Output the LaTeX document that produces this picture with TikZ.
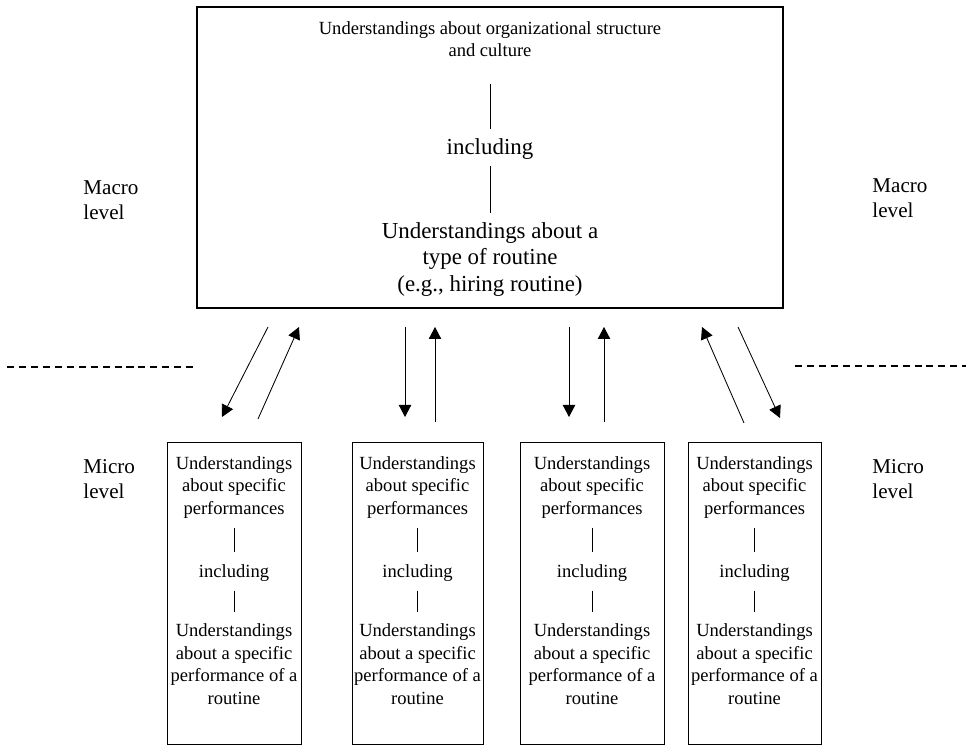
\documentclass[tikz,border=0pt]{standalone}
\usepackage{fontspec}
\setmainfont{Liberation Serif}
\usepackage{tikz}
\usetikzlibrary{arrows.meta}
\tikzset{
    txt/.style = {align=center, inner sep=0pt},
    bigtxt/.style = {align=center, inner sep=0pt, font=\fontsize{16.3pt}{18.9pt}\selectfont},
    sidetxt/.style = {align=left, inner sep=0pt, anchor=west, font=\fontsize{15pt}{17.8pt}\selectfont},
}

\begin{document}
\begin{tikzpicture}[
	line width=0.7pt,
	font=\fontsize{13.2pt}{16pt}\selectfont
]
\tikzset{
    macrobox/.style = {rectangle, draw=black, line width=0.8pt, minimum width=14.65cm, minimum height=7.525cm},
    microbox/.style = {rectangle, draw=black, line width=0.7pt, minimum height=7.525cm},
    link/.style = {-, line width=0.6pt},
    updown/.style = {-{Triangle[length=3mm,width=3.1mm]}, line width=0.6pt},
    levelline/.style = {-, dash pattern=on 5pt off 3.5pt, line width=0.8pt},
}
\useasboundingbox (0,0) rectangle (24.15,18.625);
% macro level
\node[macrobox] at (12.25,14.6875) (macro) {};
\node[txt] at (12.25,17.64) (orgtxt) {Understandings about organizational structure\\and culture};
\node[bigtxt] at (12.25,14.89) (macroincl) {including};
\node[bigtxt] at (12.25,12.145) (typetxt) {Understandings about a\\type of routine\\(e.g., hiring routine)};
\draw[link, shorten <=0.65cm, shorten >=0.225cm] (orgtxt) -- (macroincl);
\draw[link, shorten <=0.15cm, shorten >=0.225cm] (macroincl) -- (typetxt);
%
\node[sidetxt] at (2.075,13.61) (macroL) {Macro\\level};
\node[sidetxt] at (21.8,13.66) (macroR) {Macro\\level};
\node[sidetxt] at (2.075,6.64) (microL) {Micro\\level};
\node[sidetxt] at (21.8,6.64) (microR) {Micro\\level};
%
\coordinate (dashL1) at (0.175,9.45);
\coordinate (dashL2) at (4.875,9.45);
\coordinate (dashR1) at (19.875,9.475);
\coordinate (dashR2) at (24.15,9.475);
\draw[levelline] (dashL1) -- (dashL2);
\draw[levelline] (dashR1) -- (dashR2);
% micro level
\node[microbox, minimum width=3.35cm] at (5.85,3.7875) (micro1) {};
\node[txt] at (5.85,6.445) (perf1) {Understandings\\about specific\\performances};
\node[txt] at (5.85,4.31) (incl1) {including};
\node[txt] at (5.85,2.02) (spec1) {Understandings\\about a specific\\performance of a\\routine};
\draw[link, shorten <=0.225cm, shorten >=0.3cm] (perf1) -- (incl1);
\draw[link, shorten <=0.225cm, shorten >=0.275cm] (incl1) -- (spec1);
%
\node[microbox, minimum width=3.275cm] at (10.4375,3.7875) (micro2) {};
\node[txt] at (10.4375,6.445) (perf2) {Understandings\\about specific\\performances};
\node[txt] at (10.4375,4.31) (incl2) {including};
\node[txt] at (10.4375,2.02) (spec2) {Understandings\\about a specific\\performance of a\\routine};
\draw[link, shorten <=0.225cm, shorten >=0.3cm] (perf2) -- (incl2);
\draw[link, shorten <=0.225cm, shorten >=0.275cm] (incl2) -- (spec2);
%
\node[microbox, minimum width=3.6cm] at (14.8,3.7875) (micro3) {};
\node[txt] at (14.8,6.445) (perf3) {Understandings\\about specific\\performances};
\node[txt] at (14.8,4.31) (incl3) {including};
\node[txt] at (14.8,2.02) (spec3) {Understandings\\about a specific\\performance of a\\routine};
\draw[link, shorten <=0.225cm, shorten >=0.3cm] (perf3) -- (incl3);
\draw[link, shorten <=0.225cm, shorten >=0.275cm] (incl3) -- (spec3);
%
\node[microbox, minimum width=3.325cm] at (18.8625,3.7875) (micro4) {};
\node[txt] at (18.8625,6.445) (perf4) {Understandings\\about specific\\performances};
\node[txt] at (18.8625,4.31) (incl4) {including};
\node[txt] at (18.8625,2.02) (spec4) {Understandings\\about a specific\\performance of a\\routine};
\draw[link, shorten <=0.225cm, shorten >=0.3cm] (perf4) -- (incl4);
\draw[link, shorten <=0.225cm, shorten >=0.275cm] (incl4) -- (spec4);
% arrows between levels
\coordinate (down1a) at (6.7,10.45);
\coordinate (down1b) at (5.55,8.2);
\coordinate (up1a) at (6.45,8.15);
\coordinate (up1b) at (7.475,10.45);
\coordinate (down2a) at (10.125,10.45);
\coordinate (down2b) at (10.125,8.2);
\coordinate (up2a) at (10.875,8.075);
\coordinate (up2b) at (10.875,10.45);
\coordinate (down3a) at (14.225,10.45);
\coordinate (down3b) at (14.225,8.2);
\coordinate (up3a) at (15.1,8.075);
\coordinate (up3b) at (15.1,10.45);
\coordinate (up4a) at (18.6,8.05);
\coordinate (up4b) at (17.55,10.45);
\coordinate (down4a) at (18.45,10.45);
\coordinate (down4b) at (19.5,8.175);
%
\draw[updown] (down1a) -- (down1b);
\draw[updown] (up1a) -- (up1b);
\draw[updown] (down2a) -- (down2b);
\draw[updown] (up2a) -- (up2b);
\draw[updown] (down3a) -- (down3b);
\draw[updown] (up3a) -- (up3b);
\draw[updown] (up4a) -- (up4b);
\draw[updown] (down4a) -- (down4b);
\end{tikzpicture}
\end{document}
